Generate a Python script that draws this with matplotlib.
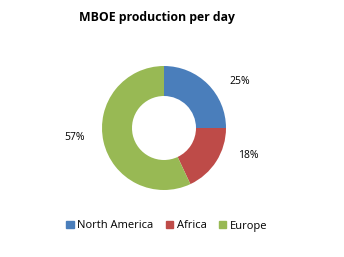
import matplotlib.pyplot as plt

regions = ['North America', 'Africa', 'Europe']
shares = [25, 18, 57]
colors = ['#4A7EBB', '#BE4B48', '#98B954']

fig = plt.figure(figsize=(3.44, 2.57), dpi=100)
plt.rcParams['font.family'] = ['Open Sans', 'DejaVu Sans']

# pie area in pixel-ish figure coordinates
ax = fig.add_axes([(164 - 66) / 344, 1 - (128 + 66) / 257, 132 / 344, 132 / 257])
wedges, _ = ax.pie(shares, colors=colors, startangle=90, counterclock=False,
                   radius=62 / 66, wedgeprops=dict(width=30 / 66, edgecolor='none'))
ax.set_xlim(-1, 1)
ax.set_ylim(-1, 1)
ax.set_aspect('equal')

# percentage labels
label_pos = [(240, 82), (248, 155), (75, 138)]
for (x, y), s in zip(label_pos, shares):
    fig.text(x / 344, 1 - y / 257, f'{s}%', fontsize=7.5, ha='center', va='center')

fig.text(157 / 344, 1 - 17 / 257, 'MBOE production per day', fontsize=8.8,
         fontweight='bold', ha='center', va='center')

handles = [plt.Rectangle((0, 0), 1, 1, color=c) for c in colors]
fig.legend(handles, regions, loc='center', bbox_to_anchor=(167 / 344, 1 - 226 / 257),
           ncol=3, frameon=False, fontsize=8, handlelength=0.65, handleheight=0.65,
           handletextpad=0.35, columnspacing=1.1)

fig.savefig('out.png', dpi=100, facecolor='white')
